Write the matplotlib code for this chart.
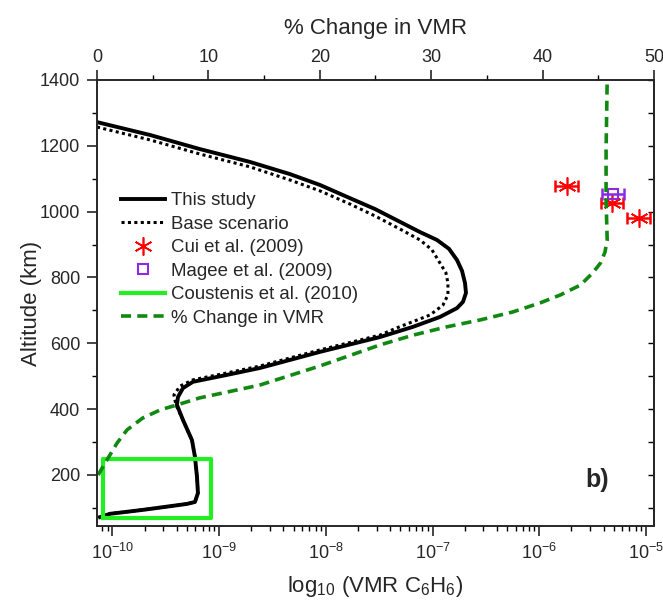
import numpy as np
import matplotlib
matplotlib.use("Agg")
import matplotlib.pyplot as plt
from matplotlib.lines import Line2D

plt.rcParams['font.family'] = ['Liberation Sans', 'DejaVu Sans']
plt.rcParams['mathtext.fontset'] = 'custom'
plt.rcParams['mathtext.rm'] = 'Liberation Sans'
plt.rcParams['mathtext.it'] = 'Liberation Sans:italic'
plt.rcParams['mathtext.default'] = 'regular'

# --- this study (solid) : log10 VMR vs altitude (km)
study_logvmr = [-10.145, -9.649, -9.180, -8.711, -8.336, -8.055, -7.774, -7.540, -7.305,
                -7.118, -6.959, -6.846, -6.771, -6.724, -6.696, -6.687, -6.715, -6.771,
                -6.931, -7.184, -7.493, -8.055, -8.618, -8.927, -9.246, -9.339, -9.386,
                -9.396, -9.339, -9.255, -9.227, -9.208, -9.199, -9.227, -9.302, -9.714,
                -10.023, -10.117]
study_alt = [1272, 1233, 1190, 1151, 1114, 1081, 1041, 1008, 969,
             938, 914, 887, 853, 820, 783, 753, 726, 707,
             680, 650, 619, 574, 525, 504, 483, 464, 437,
             413, 367, 306, 255, 194, 145, 118, 112, 94,
             82, 72]

# --- base scenario (dotted)
base_logvmr = [-10.145, -9.649, -9.180, -8.711, -8.336, -8.055, -7.774, -7.540, -7.305,
               -7.118, -7.006, -6.931, -6.875, -6.856, -6.856, -6.903, -7.024, -7.334,
               -7.493, -8.055, -8.618, -8.927, -9.246, -9.367, -9.424, -9.405, -9.339,
               -9.255, -9.227, -9.208, -9.199, -9.227, -9.302, -9.714, -10.023, -10.117]
base_alt = [1257, 1218, 1175, 1136, 1096, 1063, 1023, 987, 947,
            914, 884, 844, 814, 783, 747, 716, 686, 647,
            625, 580, 531, 510, 489, 470, 443, 413, 367,
            306, 255, 194, 145, 118, 112, 94, 82, 72]

# --- Cui et al. (2009)
cui_vmr = [1.81e-6, 4.77e-6, 8.6e-6]
cui_lo = [1.41e-6, 3.79e-6, 6.7e-6]
cui_hi = [2.29e-6, 6.05e-6, 1.10e-5]
cui_alt = [1078, 1025, 980]

# --- Magee et al. (2009)
magee_vmr = [4.9e-6]
magee_lo = [3.85e-6]
magee_hi = [6.25e-6]
magee_alt = [1053]

# --- Coustenis et al. (2010) box
coustenis_vmr = [8.2e-11, 8.4e-10]
coustenis_alt = [70, 250]

# --- % change in VMR (top axis)
pct_change = [0.1, 0.9, 1.8, 2.7, 4.1, 5.7, 7.2, 9.2, 11.7, 14.6, 20.0, 25.4, 28.4,
              31.4, 34.4, 37.3, 39.8, 41.6, 43.4, 44.5, 45.2, 45.6, 45.8, 45.7, 45.7, 45.8]
pct_alt = [200, 246, 297, 337, 373, 398, 413, 434, 452, 473, 531, 595, 625,
           650, 671, 695, 723, 747, 777, 814, 844, 877, 914, 1035, 1187, 1400]

txt = '#262626'
green_dash = (0, (2.8, 1.7))
dots = (0, (1, 1.1))

fig = plt.figure(figsize=(6.63, 6.05), dpi=100)
ax = fig.add_axes([0.1463, 0.1306, 0.8401, 0.7372])

ax.plot(10 ** np.array(study_logvmr), study_alt, color='black', lw=2.8, solid_joinstyle='round')
ax.plot(10 ** np.array(base_logvmr), base_alt, color='black', lw=2.2, linestyle=dots)

cui_err = [np.array(cui_vmr) - np.array(cui_lo), np.array(cui_hi) - np.array(cui_vmr)]
ax.errorbar(cui_vmr, cui_alt, xerr=cui_err, fmt='none', ecolor='red', elinewidth=1.8,
            capsize=4.5, capthick=1.8)
ax.plot(cui_vmr, cui_alt, linestyle='none', marker=(6, 2, 0), ms=13, mec='red', mew=1.2)

magee_err = [np.array(magee_vmr) - np.array(magee_lo), np.array(magee_hi) - np.array(magee_vmr)]
ax.errorbar(magee_vmr, magee_alt, xerr=magee_err, fmt='none', ecolor='#8a2be2', elinewidth=1.8,
            capsize=4, capthick=1.8)
ax.plot(magee_vmr, magee_alt, linestyle='none', marker='s', ms=7, mfc='none', mec='#8a2be2', mew=1.5)

x0, x1 = coustenis_vmr
y0, y1 = coustenis_alt
ax.plot([x0, x1, x1, x0, x0], [y0, y0, y1, y1, y0], color='#22ee22', lw=3)

ax.set_xscale('log')
ax.set_xlim(10 ** -10.145, 10 ** -4.925)
ax.set_ylim(45, 1400)
ax.set_yticks(range(200, 1401, 200))
ax.set_yticks(range(100, 1400, 200), minor=True)
ax.set_xticks([1e-10, 1e-9, 1e-8, 1e-7, 1e-6, 1e-5])
ax.set_xticklabels([r'$10^{-10}$', r'$10^{-9}$', r'$10^{-8}$', r'$10^{-7}$', r'$10^{-6}$', r'$10^{-5}$'])
ax.tick_params(axis='both', which='major', direction='out', length=7, width=1.2,
               labelsize=13, colors=txt, pad=5)
ax.tick_params(axis='both', which='minor', direction='out', length=3.5, width=1.0)
ax.set_xlabel(r'log$_{10}$ (VMR C$_6$H$_6$)', fontsize=16, color=txt, labelpad=8)
ax.set_ylabel('Altitude (km)', fontsize=16, color=txt, labelpad=-1.5)

sec = ax.secondary_yaxis('right')
sec.set_yticks(range(100, 1401, 100))
sec.tick_params(direction='in', length=4, width=1.0, labelright=False)
sec.yaxis.set_minor_locator(matplotlib.ticker.NullLocator())

ax2 = ax.twiny()
ax2.plot(pct_change, pct_alt, color='#118811', lw=2.6, linestyle=green_dash)
ax2.set_xlim(0, 50)
ax2.set_xticks(range(0, 51, 10))
ax2.set_xticks(range(5, 50, 10), minor=True)
ax2.tick_params(axis='x', which='major', direction='out', length=7, width=1.2,
                labelsize=13, colors=txt, pad=3)
ax2.tick_params(axis='x', which='minor', direction='out', length=3.5, width=1.0)
ax2.set_xlabel('% Change in VMR', fontsize=16, color=txt, labelpad=11)

for a in (ax, ax2):
    for s in a.spines.values():
        s.set_linewidth(1.2)
        s.set_color(txt)
sec.spines['right'].set_linewidth(1.2)
sec.spines['right'].set_color(txt)

handles = [
    Line2D([], [], color='black', lw=2.8),
    Line2D([], [], color='black', lw=2.2, linestyle=dots),
    Line2D([], [], linestyle='none', marker=(6, 2, 0), ms=13, mec='red', mew=1.2),
    Line2D([], [], linestyle='none', marker='s', ms=7, mfc='none', mec='#8a2be2', mew=1.5),
    Line2D([], [], color='#22ee22', lw=3),
    Line2D([], [], color='#118811', lw=2.6, linestyle=green_dash),
]
labels = ['This study', 'Base scenario', 'Cui et al. (2009)', 'Magee et al. (2009)',
          'Coustenis et al. (2010)', '% Change in VMR']
leg = ax2.legend(handles, labels, loc='upper left', bbox_to_anchor=(0.029, 0.765), frameon=False,
                 fontsize=13.4, handlelength=2.4, handletextpad=0.3, labelspacing=0.35,
                 borderaxespad=0)
for t in leg.get_texts():
    t.set_color(txt)

ax2.text(0.898, 0.103, 'b)', transform=ax2.transAxes, fontsize=18, fontweight='bold',
         ha='center', va='center', color=txt)

fig.savefig('out.png', dpi=100)
